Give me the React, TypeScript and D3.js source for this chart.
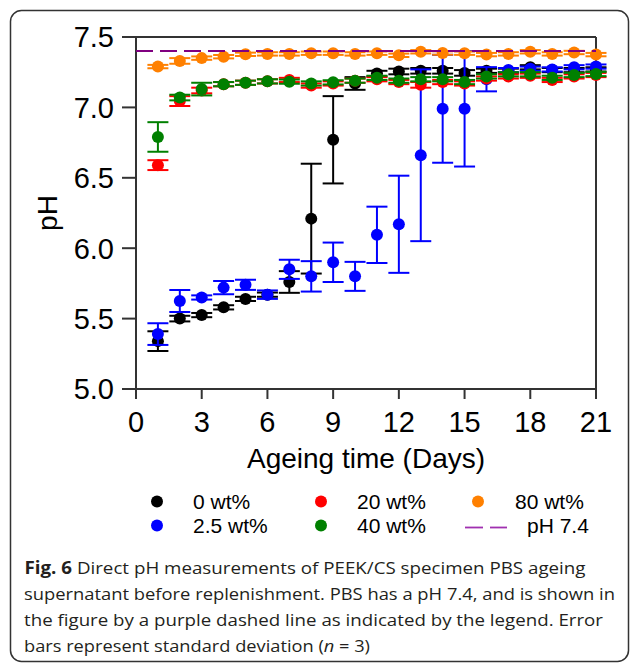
import * as d3 from "d3";

const days = d3.range(1, 22);

const series0Mean = [5.34, 5.5, 5.525, 5.58, 5.64, 5.67, 5.76, 6.21, 6.77, 7.17, 7.24, 7.255, 7.26, 7.26, 7.245, 7.26, 7.26, 7.285, 7.265, 7.265, 7.27];
const series0Sd = [0.07, 0.02, 0.015, 0.015, 0.015, 0.015, 0.077, 0.39, 0.31, 0.045, 0.02, 0.02, 0.02, 0.02, 0.02, 0.015, 0.015, 0.015, 0.015, 0.015, 0.015];

const series25Mean = [5.39, 5.625, 5.65, 5.72, 5.74, 5.67, 5.85, 5.8, 5.9, 5.8, 6.095, 6.17, 6.66, 6.99, 6.99, 7.2, 7.265, 7.275, 7.27, 7.285, 7.29];
const series25Sd = [0.077, 0.078, 0.015, 0.047, 0.036, 0.03, 0.068, 0.108, 0.14, 0.103, 0.2, 0.345, 0.61, 0.383, 0.41, 0.086, 0.015, 0.015, 0.015, 0.015, 0.015];

const series20Mean = [6.59, 7.045, 7.12, 7.165, 7.175, 7.185, 7.195, 7.155, 7.17, 7.19, 7.2, 7.18, 7.16, 7.18, 7.17, 7.205, 7.22, 7.225, 7.195, 7.22, 7.23];
const series20Sd = [0.035, 0.035, 0.02, 0.015, 0.015, 0.015, 0.015, 0.015, 0.015, 0.015, 0.015, 0.015, 0.02, 0.015, 0.015, 0.015, 0.015, 0.015, 0.015, 0.015, 0.015];

const series40Mean = [6.79, 7.07, 7.13, 7.165, 7.175, 7.185, 7.183, 7.17, 7.178, 7.19, 7.21, 7.19, 7.2, 7.2, 7.18, 7.22, 7.235, 7.235, 7.21, 7.23, 7.237];
const series40Sd = [0.105, 0.02, 0.045, 0.015, 0.015, 0.015, 0.015, 0.015, 0.015, 0.015, 0.015, 0.015, 0.015, 0.015, 0.015, 0.015, 0.015, 0.015, 0.015, 0.015, 0.015];

const series80Mean = [7.29, 7.33, 7.35, 7.36, 7.377, 7.38, 7.38, 7.385, 7.385, 7.38, 7.385, 7.37, 7.395, 7.386, 7.385, 7.375, 7.38, 7.395, 7.38, 7.39, 7.375];
const series80Sd = [0.012, 0.02, 0.012, 0.012, 0.012, 0.012, 0.012, 0.012, 0.012, 0.012, 0.012, 0.012, 0.012, 0.012, 0.012, 0.012, 0.012, 0.012, 0.012, 0.012, 0.012];

const pbsPh = 7.4;

const xTicks = [0, 3, 6, 9, 12, 15, 18, 21];
const yTicks = [5.0, 5.5, 6.0, 6.5, 7.0, 7.5];

// drawing order: black, blue, red, green, orange
const seriesList = [
  { label: "0 wt%", color: "#000000", mean: series0Mean, sd: series0Sd },
  { label: "2.5 wt%", color: "#0000ff", mean: series25Mean, sd: series25Sd },
  { label: "20 wt%", color: "#ff0000", mean: series20Mean, sd: series20Sd },
  { label: "40 wt%", color: "#008000", mean: series40Mean, sd: series40Sd },
  { label: "80 wt%", color: "#ff8000", mean: series80Mean, sd: series80Sd },
];

const captionLines = [
  "supernatant before replenishment. PBS has a pH 7.4, and is shown in",
  "the figure by a purple dashed line as indicated by the legend. Error",
];

const App = () => {
  const width = 630;
  const height = 664;
  const x = d3.scaleLinear().domain([0, 21]).range([136, 596]);
  const y = d3.scaleLinear().domain([5, 7.5]).range([389, 37]);
  const axisColor = "#333333";
  const font = "'Liberation Sans', Arial, sans-serif";
  const capW = 10.5;

  const legendItems = [
    { col: 0, row: 0, s: seriesList[0] },
    { col: 0, row: 1, s: seriesList[1] },
    { col: 1, row: 0, s: seriesList[2] },
    { col: 1, row: 1, s: seriesList[3] },
    { col: 2, row: 0, s: seriesList[4] },
  ];
  const legendDotX = [157, 321, 478];
  const legendTextX = [193, 357, 515];
  const legendRowY = [501.5, 525.5];

  return (
    <svg
      width={width}
      height={height}
      style={{ position: "absolute", left: 0, top: 0, background: "#fff" }}
    >
      <rect x={10.5} y={10.5} width={618} height={651} rx={11} fill="none" stroke="#333" strokeWidth={1.5} />

      {/* frame */}
      <line x1={x(0)} x2={x(21)} y1={y(7.5)} y2={y(7.5)} stroke={axisColor} strokeWidth={2} />
      <line x1={x(21)} x2={x(21)} y1={y(7.5)} y2={y(5)} stroke={axisColor} strokeWidth={2} />
      <line x1={x(0)} x2={x(21)} y1={y(5)} y2={y(5)} stroke={axisColor} strokeWidth={2} />
      <line x1={x(0)} x2={x(0)} y1={y(7.5)} y2={y(5)} stroke={axisColor} strokeWidth={2} />

      {yTicks.map((t) => (
        <g key={"y" + t}>
          <line x1={x(0) - 14} x2={x(0)} y1={y(t)} y2={y(t)} stroke={axisColor} strokeWidth={2} />
          <text x={114} y={y(t)} dy="0.36em" textAnchor="end" fontFamily={font} fontSize={29} fill="#000">
            {t.toFixed(1)}
          </text>
        </g>
      ))}
      {xTicks.map((t) => (
        <g key={"x" + t}>
          <line x1={x(t)} x2={x(t)} y1={y(5)} y2={y(5) + 10} stroke={axisColor} strokeWidth={2} />
          <text x={x(t)} y={432} textAnchor="middle" fontFamily={font} fontSize={29} fill="#000">
            {t}
          </text>
        </g>
      ))}
      <text x={(x(0) + x(21)) / 2} y={468} textAnchor="middle" fontFamily={font} fontSize={28} fill="#000">
        Ageing time (Days)
      </text>
      <text
        transform={`translate(57,213) rotate(-90)`}
        textAnchor="middle"
        fontFamily={font}
        fontSize={28}
        fill="#000"
      >
        pH
      </text>

      {/* series */}
      {seriesList.map((s) => (
        <g key={s.label}>
          {days.map((d, i) => {
            const cx = x(d);
            const hi = y(s.mean[i] + s.sd[i]);
            const lo = y(s.mean[i] - s.sd[i]);
            return (
              <g key={d} stroke={s.color} strokeWidth={2}>
                <line x1={cx} x2={cx} y1={hi} y2={lo} />
                <line x1={cx - capW} x2={cx + capW} y1={hi} y2={hi} />
                <line x1={cx - capW} x2={cx + capW} y1={lo} y2={lo} />
              </g>
            );
          })}
          {days.map((d, i) => (
            <circle key={"c" + d} cx={x(d)} cy={y(s.mean[i])} r={6} fill={s.color} />
          ))}
        </g>
      ))}

      <line
        x1={x(0)}
        x2={x(21)}
        y1={y(pbsPh)}
        y2={y(pbsPh)}
        stroke="#800080"
        strokeWidth={2}
        strokeDasharray="17 7"
      />

      {/* legend */}
      {legendItems.map((it) => (
        <g key={it.s.label}>
          <circle cx={legendDotX[it.col]} cy={legendRowY[it.row]} r={6} fill={it.s.color} />
          <text
            x={legendTextX[it.col]}
            y={legendRowY[it.row]}
            dy="0.36em"
            fontFamily={font}
            fontSize={21}
            fill="#000"
          >
            {it.s.label}
          </text>
        </g>
      ))}
      <line x1={465} x2={483} y1={legendRowY[1] + 2} y2={legendRowY[1] + 2} stroke="#a030b0" strokeWidth={1.8} />
      <line x1={490} x2={507} y1={legendRowY[1] + 2} y2={legendRowY[1] + 2} stroke="#a030b0" strokeWidth={1.8} />
      <text x={527} y={legendRowY[1]} dy="0.36em" fontFamily={font} fontSize={21} fill="#000">
        pH 7.4
      </text>

      {/* caption */}
      <g fontFamily="'Open Sans', 'Noto Sans', sans-serif" fontSize={17} fill="#231f20">
        <text x={24.5} y={574} textLength={561} lengthAdjust="spacingAndGlyphs">
          <tspan fontWeight="bold">Fig. 6</tspan> Direct pH measurements of PEEK/CS specimen PBS ageing
        </text>
        <text x={24} y={600} textLength={591} lengthAdjust="spacingAndGlyphs">
          {captionLines[0]}
        </text>
        <text x={24} y={626} textLength={579} lengthAdjust="spacingAndGlyphs">
          {captionLines[1]}
        </text>
        <text x={24} y={652} textLength={346} lengthAdjust="spacingAndGlyphs">
          bars represent standard deviation (<tspan fontStyle="italic">n</tspan> = 3)
        </text>
      </g>
    </svg>
  );
};

export default App;
